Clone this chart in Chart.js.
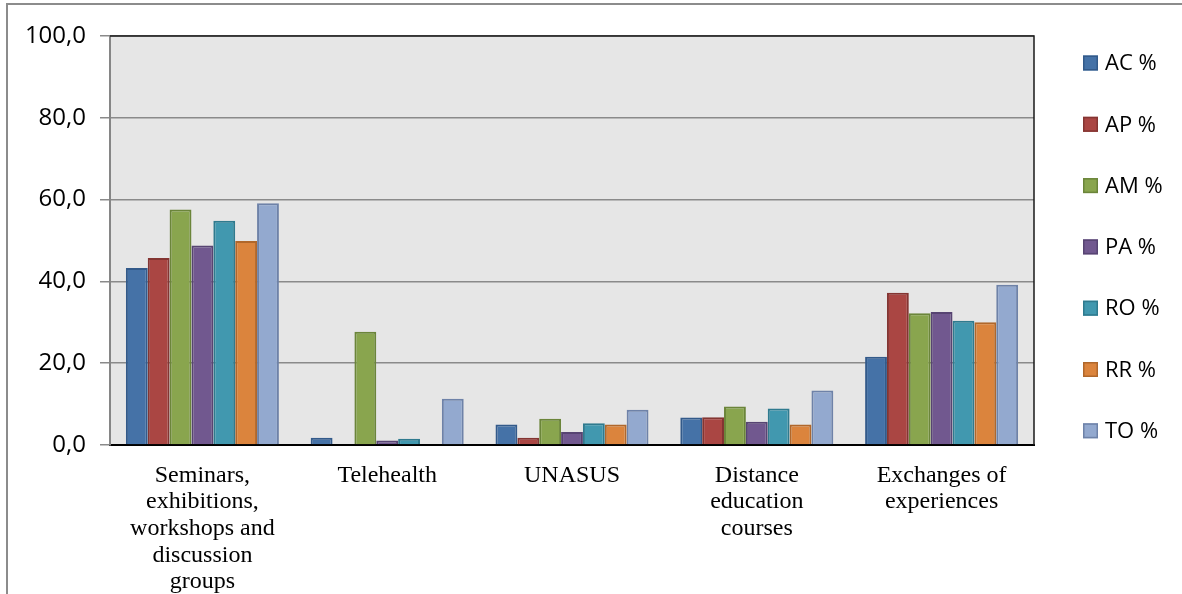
<!DOCTYPE html>
<html>
<head>
<meta charset="utf-8">
<script src="https://cdn.jsdelivr.net/npm/chart.js@4.4.1/dist/chart.umd.min.js"></script>
<style>
  html, body { margin: 0; padding: 0; background: #ffffff; }
  #wrap { position: relative; width: 1182px; height: 594px; }
  canvas { display: block; }
</style>
</head>
<body>
<div id="wrap"><canvas id="c" width="1182" height="594"></canvas></div>
<script>
// ---- data ----
const categories = [
  ["Seminars,", "exhibitions,", "workshops and", "discussion", "groups"],
  ["Telehealth"],
  ["UNASUS"],
  ["Distance", "education", "courses"],
  ["Exchanges of", "experiences"]
];
const seriesNames = ["AC %", "AP %", "AM %", "PA %", "RO %", "RR %", "TO %"];
const AC = [43.3, 1.8, 5.0, 6.7, 21.6];
const AP = [45.7, 0, 1.8, 6.8, 37.2];
const AM = [57.6, 27.7, 6.4, 9.4, 32.2];
const PA = [48.8, 1.1, 3.2, 5.7, 32.5];
const RO = [54.8, 1.5, 5.3, 8.9, 30.4];
const RR = [49.9, 0, 5.0, 5.0, 30.0];
const TO = [59.1, 11.3, 8.6, 13.3, 39.2];
const yTicks = [0, 20, 40, 60, 80, 100];

// ---- styles ----
const fills   = ["#4572A7", "#AA4643", "#89A54E", "#71588F", "#4198AF", "#DB843D", "#93A9CF"];
const borders = ["#335A8A", "#843532", "#6B853A", "#574472", "#2F7A8E", "#B0672B", "#6E82A8"];
const seriesValues = [AC, AP, AM, PA, RO, RR, TO];

const datasets = seriesNames.map((n, i) => ({
  label: n,
  data: seriesValues[i],
  backgroundColor: fills[i],
  borderColor: borders[i],
  borderWidth: 2,
  borderSkipped: 'bottom',
  categoryPercentage: 0.828,
  barPercentage: 1.0
}));

const framePlugin = {
  id: 'frame',
  beforeDraw(chart) {
    const ctx = chart.ctx, a = chart.chartArea;
    ctx.save();
    ctx.fillStyle = '#ffffff';
    ctx.fillRect(0, 0, chart.width, chart.height);
    ctx.strokeStyle = '#8c8c8c';
    ctx.lineWidth = 2;
    ctx.beginPath();
    ctx.moveTo(1182, 4); ctx.lineTo(7, 4); ctx.lineTo(7, 594);
    ctx.stroke();
    ctx.fillStyle = '#e6e6e6';
    ctx.fillRect(a.left, a.top, a.right - a.left, a.bottom - a.top);
    ctx.restore();
  },
  afterDatasetsDraw(chart) {
    const ctx = chart.ctx, a = chart.chartArea;
    ctx.save();
    ctx.strokeStyle = '#1a1a1a';
    ctx.lineWidth = 1.5;
    ctx.beginPath();
    ctx.moveTo(a.left, a.top); ctx.lineTo(a.right, a.top); ctx.lineTo(a.right, a.bottom);
    ctx.stroke();
    ctx.restore();
  },
  afterDraw(chart) {
    const ctx = chart.ctx;
    ctx.save();
    chart.data.datasets.forEach((ds, i) => {
      const cy = 63 + i * 61.3;
      ctx.fillStyle = ds.backgroundColor;
      ctx.fillRect(1083, cy - 7.5, 15, 15);
      ctx.strokeStyle = ds.borderColor;
      ctx.lineWidth = 1.5;
      ctx.strokeRect(1083.75, cy - 6.75, 13.5, 13.5);
      ctx.fillStyle = '#000000';
      ctx.font = '22px "Open Sans"';
      ctx.textBaseline = 'middle';
      ctx.textAlign = 'left';
      ctx.fillText(ds.label, 1105, cy + 1);
    });
    ctx.restore();
  }
};

new Chart(document.getElementById('c'), {
  type: 'bar',
  data: { labels: categories, datasets },
  plugins: [framePlugin],
  options: {
    responsive: false,
    animation: false,
    devicePixelRatio: 1,
    layout: { padding: { left: 0, top: 36, right: 148, bottom: 0 } },
    plugins: { legend: { display: false }, tooltip: { enabled: false }, title: { display: false } },
    scales: {
      x: {
        grid: { display: false, drawTicks: false },
        border: { display: true, color: '#000000', width: 2 },
        ticks: {
          color: '#000000',
          font: { family: '"Liberation Serif", "Times New Roman", serif', size: 24, lineHeight: 1.11 },
          padding: 17,
          maxRotation: 0,
          autoSkip: false
        },
        afterFit(s) { s.height = 149; }
      },
      y: {
        min: 0, max: 100,
        afterBuildTicks(s) { s.ticks = yTicks.map(v => ({ value: v })); },
        grid: { color: '#8a8a8a', lineWidth: 1.5, drawTicks: true, tickLength: 10, tickColor: '#8a8a8a' },
        border: { display: true, color: '#868686', width: 2 },
        ticks: {
          color: '#000000',
          font: { family: '"Open Sans"', size: 24 },
          padding: 14,
          callback: v => v.toFixed(1).replace('.', ',')
        },
        afterFit(s) { s.width = 110; }
      }
    }
  }
});
</script>
</body>
</html>
